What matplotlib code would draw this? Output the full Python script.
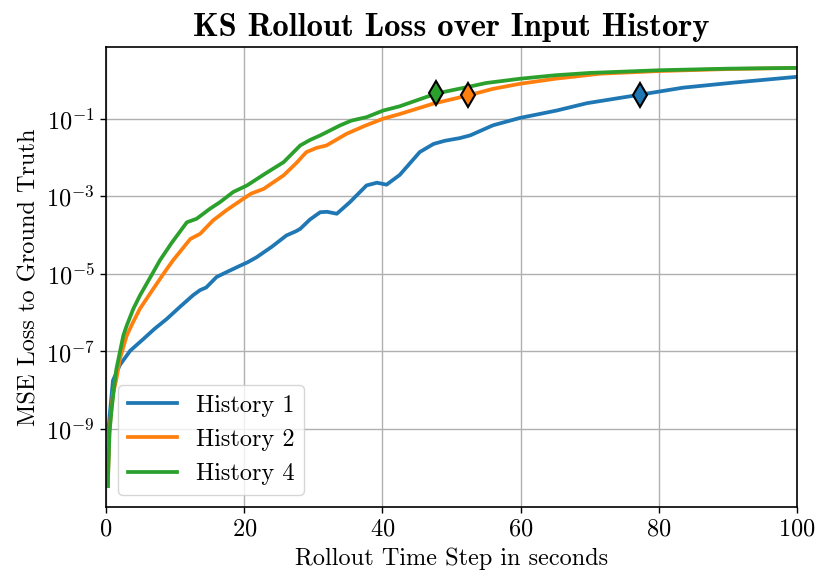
import numpy as np
import matplotlib
matplotlib.use('Agg')
import matplotlib.pyplot as plt
from matplotlib.ticker import NullLocator

# Data (x in seconds, y as log10 of the MSE loss)

x_h1 = [0.25, 0.4, 1.0, 2.0, 3.5, 5.4, 7.0, 8.8, 10.7, 12.6, 13.6, 14.5, 16.0,
        17.5, 19.4, 20.5, 21.8, 24.0, 26.1, 27.5, 28.1, 29.5, 31.0, 32.0, 33.4,
        35.3, 37.7, 39.2, 40.6, 42.5, 45.4, 47.4, 49.0, 51.2, 52.7, 56.0, 59.9,
        65.2, 69.6, 77.3, 83.5, 90.8, 100.0]
log_h1 = [-10.47, -8.9, -7.75, -7.35, -6.98, -6.68, -6.42, -6.16, -5.85, -5.55,
          -5.42, -5.35, -5.08, -4.95, -4.79, -4.70, -4.57, -4.30, -4.01, -3.90,
          -3.84, -3.60, -3.41, -3.40, -3.45, -3.15, -2.72, -2.65, -2.70, -2.45,
          -1.86, -1.65, -1.57, -1.50, -1.43, -1.17, -0.98, -0.79, -0.60, -0.38,
          -0.20, -0.07, 0.08]

x_h2 = [0.25, 0.5, 1.0, 1.5, 2.0, 3.0, 3.9, 4.9, 6.4, 8.5, 9.7, 12.2, 13.6,
        15.5, 17.5, 19.9, 21.0, 22.8, 25.7, 27.5, 29.0, 30.5, 31.9, 34.8, 37.5,
        40.1, 42.5, 47.4, 52.4, 56.0, 59.9, 65.0, 71.5, 80.2, 90.0, 100.0]
log_h2 = [-10.47, -9.0, -8.1, -7.71, -7.19, -6.59, -6.25, -5.90, -5.50, -4.95,
          -4.65, -4.10, -3.97, -3.62, -3.35, -3.06, -2.93, -2.81, -2.46, -2.15,
          -1.86, -1.75, -1.69, -1.39, -1.18, -1.00, -0.88, -0.61, -0.40, -0.23,
          -0.10, 0.03, 0.16, 0.23, 0.28, 0.31]

x_h4 = [0.25, 0.5, 0.8, 1.3, 1.5, 2.5, 3.0, 3.95, 4.9, 6.85, 7.8, 9.5, 11.7,
        13.1, 15.05, 16.5, 18.4, 20.4, 23.0, 25.7, 28.1, 29.5, 31.0, 33.9, 35.5,
        37.7, 40.1, 42.5, 47.8, 52.4, 55.0, 59.9, 65.0, 70.0, 80.2, 90.0, 100.0]
log_h4 = [-10.47, -9.1, -8.5, -7.71, -7.45, -6.59, -6.33, -5.90, -5.56, -4.95,
          -4.65, -4.20, -3.67, -3.58, -3.32, -3.15, -2.89, -2.72, -2.42, -2.12,
          -1.69, -1.55, -1.43, -1.17, -1.05, -0.96, -0.79, -0.68, -0.35, -0.18,
          -0.08, 0.03, 0.12, 0.18, 0.25, 0.29, 0.31]

labels = ['History 1', 'History 2', 'History 4']
colors = ['#1f77b4', '#ff7f0e', '#2ca02c']

# diamond markers on each curve
mark_x = [77.3, 52.4, 47.75]
mark_log = [-0.38, -0.40, -0.35]

plt.rcParams['font.family'] = 'serif'
plt.rcParams['font.serif'] = ['cmr10', 'DejaVu Serif']
plt.rcParams['mathtext.fontset'] = 'cm'
plt.rcParams['axes.formatter.use_mathtext'] = True

fig = plt.figure(figsize=(8.31, 5.88), dpi=100)
ax = fig.add_axes([0.1276, 0.1378, 0.9591 - 0.1276, 0.9201 - 0.1378])

series = [(x_h1, log_h1), (x_h2, log_h2), (x_h4, log_h4)]
for (xs, ls), lab, c in zip(series, labels, colors):
    ax.plot(xs, 10 ** np.array(ls), color=c, lw=2.7, label=lab)

for mx, ml, c in zip(mark_x, mark_log, colors):
    ax.plot(mx, 10 ** ml, marker='d', ms=12.5, color=c, mec='black', mew=1.5,
            linestyle='none', zorder=5)

ax.set_yscale('log')
ax.set_xlim(0, 100)
ax.set_yticks([1e-9, 1e-7, 1e-5, 1e-3, 1e-1])
ax.yaxis.set_minor_locator(NullLocator())
ax.grid(True, color='#b0b0b0', lw=1.0)
ax.tick_params(labelsize=17.5, width=1.0, length=4.5)
for s in ax.spines.values():
    s.set_linewidth(1.2)

ax.set_xlabel('Rollout Time Step in seconds', fontsize=17.5, labelpad=5)
ax.set_ylabel('MSE Loss to Ground Truth', fontsize=17.5)
ax.set_title('KS Rollout Loss over Input History', fontsize=23.5, family='cmb10', pad=8)
ax.legend(loc='lower left', fontsize=17.5)

fig.savefig('out.png', dpi=100)
plt.close()
